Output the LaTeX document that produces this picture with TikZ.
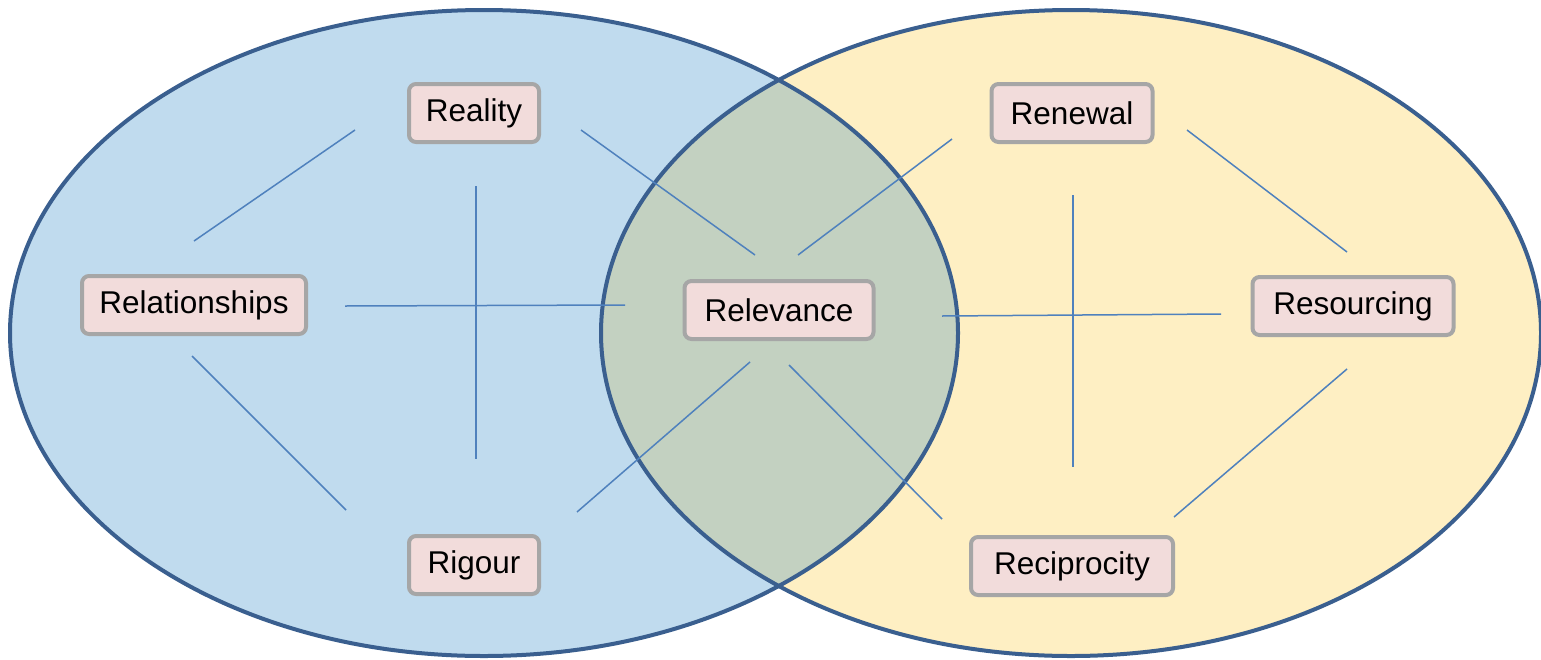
\documentclass[tikz,border=0pt]{standalone}
\usepackage{fontspec}
\setmainfont{Liberation Sans}
\definecolor{blueFill}{HTML}{C0DBEE}
\definecolor{yellowFill}{HTML}{FEEFC3}
\definecolor{greenFill}{HTML}{C3D1C1}
\definecolor{rimBlue}{HTML}{3A5F8F}
\definecolor{linkBlue}{HTML}{4F81BD}
\definecolor{boxFill}{HTML}{F2DCDB}
\definecolor{boxRim}{HTML}{A6A6A6}
\begin{document}
\begin{tikzpicture}[x=1pt,y=-1pt,
  term/.style={draw=boxRim,line width=4pt,fill=boxFill,rounded corners=7pt,
    minimum height=58pt,inner sep=0pt,font=\fontsize{31.5}{38}\selectfont},
  link/.style={draw=linkBlue,line width=1.5pt},
  rim/.style={draw=rimBlue,line width=4pt}]
\useasboundingbox (0,0) rectangle (1541,659);
% fills
\fill[blueFill] (484,333) ellipse [x radius=474, y radius=323];
\fill[yellowFill] (1071,333) ellipse [x radius=470, y radius=323];
\begin{scope}
  \clip (484,333) ellipse [x radius=474, y radius=323];
  \fill[greenFill] (1071,333) ellipse [x radius=470, y radius=323];
\end{scope}
\draw[rim] (484,333) ellipse [x radius=474, y radius=323];
\draw[rim] (1071,333) ellipse [x radius=470, y radius=323];
% nodes
\node[term,minimum width=130pt] (reality) at (474,113) {Reality};
\node[term,minimum width=224pt] (relationships) at (194,305) {Relationships};
\node[term,minimum width=189pt] (relevance) at (779,310) {Relevance};
\node[term,minimum width=130pt] (rigour) at (474,565) {Rigour};
\node[term,minimum width=161pt] (renewal) at (1072,113) {Renewal};
\node[term,minimum width=201pt] (resourcing) at (1353,306) {Resourcing};
\node[term,minimum width=202pt] (reciprocity) at (1072,566) {Reciprocity};
% connector end points
\coordinate (a1) at (355,130); \coordinate (a2) at (194,241);
\coordinate (b1) at (581,130); \coordinate (b2) at (755,255);
\coordinate (c1) at (476,186); \coordinate (c2) at (476,459);
\coordinate (d1) at (345,306); \coordinate (d2) at (625,305);
\coordinate (e1) at (192,356); \coordinate (e2) at (346,510);
\coordinate (f1) at (750,362); \coordinate (f2) at (577,512);
\coordinate (g1) at (798,255); \coordinate (g2) at (952,139);
\coordinate (h1) at (1187,130); \coordinate (h2) at (1347,252);
\coordinate (i1) at (1073,195); \coordinate (i2) at (1073,467);
\coordinate (j1) at (942,316); \coordinate (j2) at (1221,314);
\coordinate (k1) at (1347,369); \coordinate (k2) at (1174,517);
\coordinate (l1) at (789,365); \coordinate (l2) at (942,519);
\foreach \p in {a,b,c,d,e,f,g,h,i,j,k,l}
  \draw[link] (\p1) -- (\p2);
\end{tikzpicture}
\end{document}
